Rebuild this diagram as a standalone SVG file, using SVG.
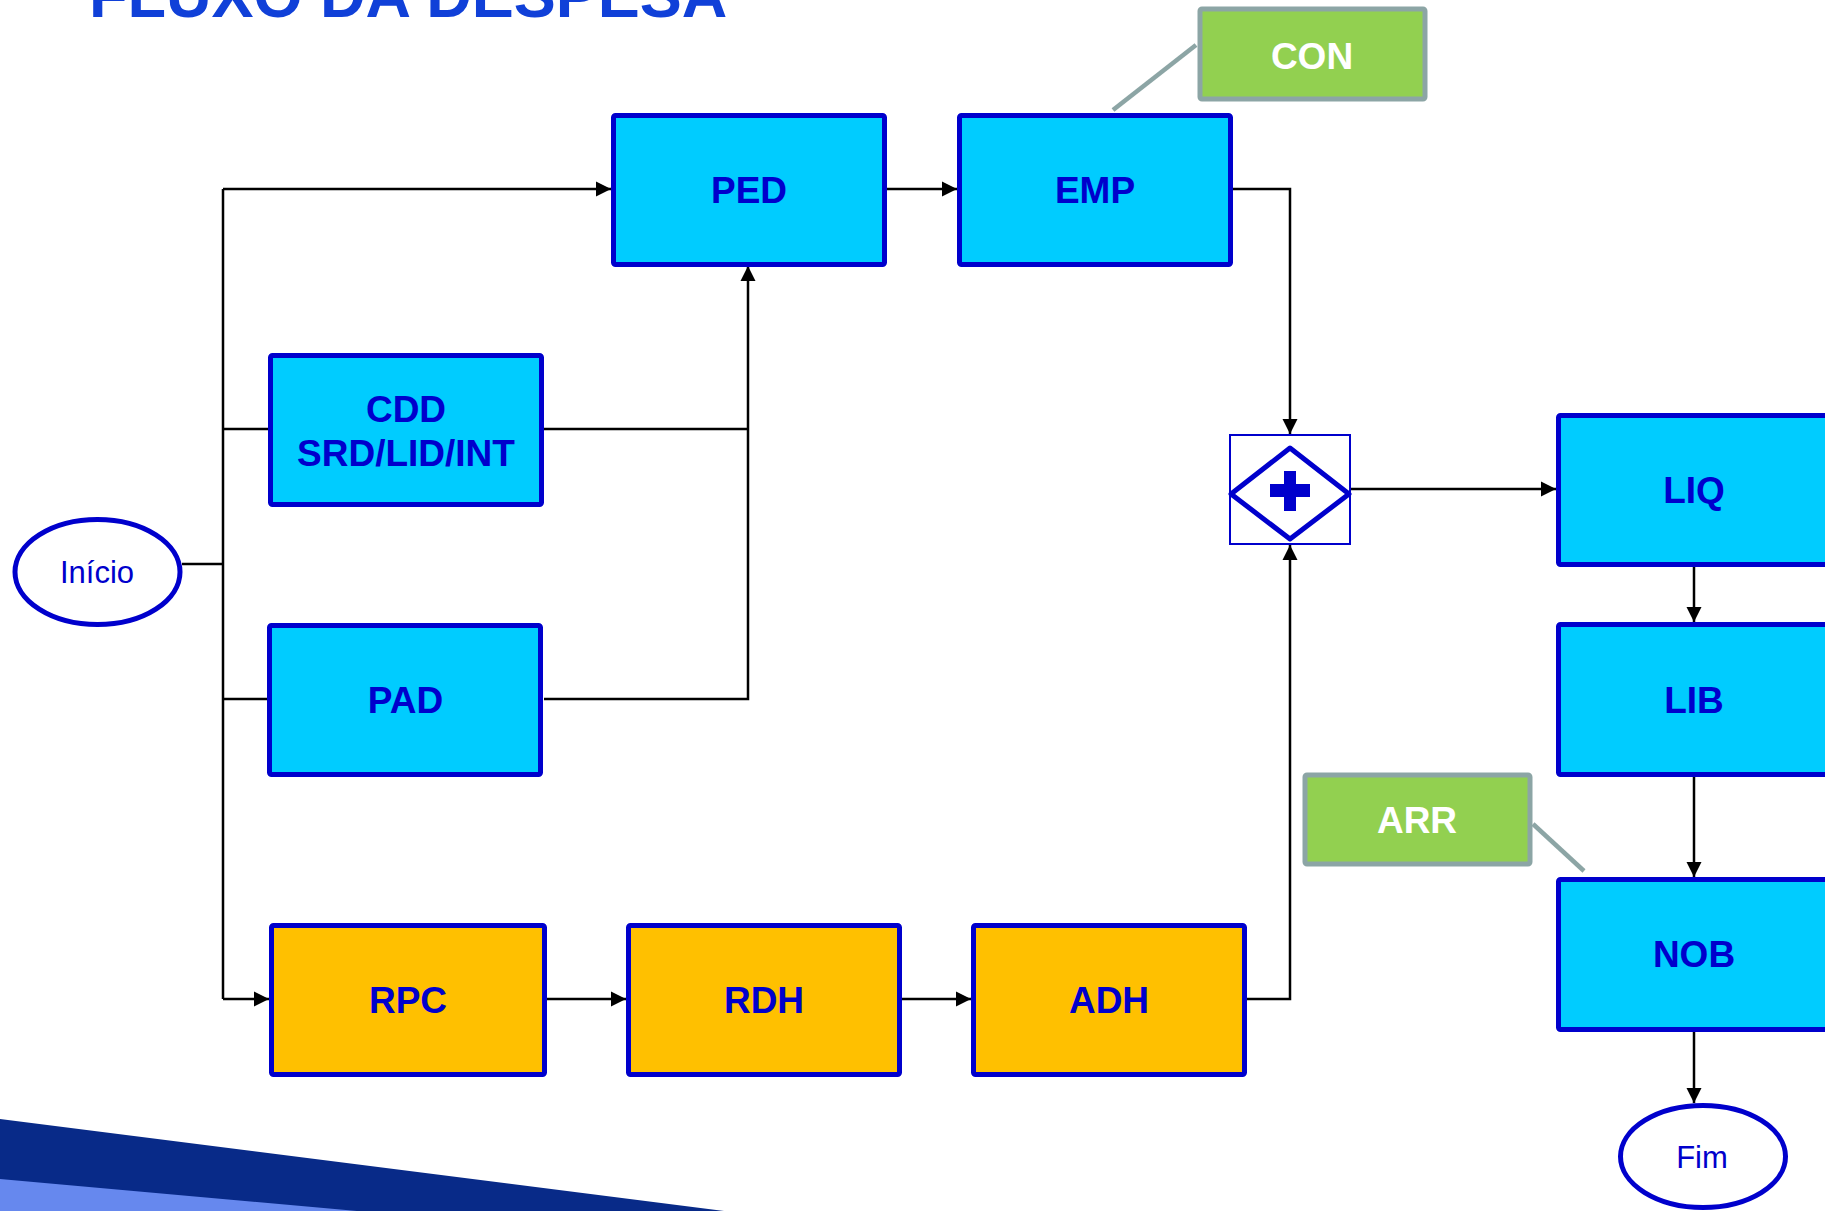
<svg xmlns="http://www.w3.org/2000/svg" width="1825" height="1211" viewBox="0 0 1825 1211">
<style>
.box{fill:#00CCFF;stroke:#0000CC;stroke-width:5;}
.obox{fill:#FFC000;stroke:#0000CC;stroke-width:5;}
.gbox{fill:#92D050;stroke:#8CA5A5;stroke-width:5;}
.lbl{font-family:"Liberation Sans",Arial,sans-serif;font-weight:bold;font-size:37px;fill:#0000CC;text-anchor:middle;}
.wlbl{font-family:"Liberation Sans",Arial,sans-serif;font-weight:bold;font-size:37px;fill:#FFFFFF;text-anchor:middle;}
.ev{fill:#FFFFFF;stroke:#0000CC;stroke-width:5;}
.evt{font-family:"Liberation Sans",Arial,sans-serif;font-size:31px;fill:#0000CC;text-anchor:middle;}
.c{fill:none;stroke:#000000;stroke-width:2.5;}
.ca{fill:none;stroke:#000000;stroke-width:2.5;marker-end:url(#ah);}
.ann{fill:none;stroke:#8CA5A5;stroke-width:4.5;}
</style>
<defs>
<marker id="ah" markerUnits="userSpaceOnUse" markerWidth="16" markerHeight="16" viewBox="0 0 16 16" refX="15" refY="8" orient="auto">
<path d="M0,0.5 L15,8 L0,15.5 Z" fill="#000000"/>
</marker>
</defs>
<rect width="1825" height="1211" fill="#FFFFFF"/>
<g id="title">
<text x="89" y="17" font-family="Liberation Sans, Arial, sans-serif" font-weight="bold" font-size="63" fill="#1040D8">FLUXO DA DESPESA</text>
</g>
<g id="band">
<polygon points="0,1119 724,1211 0,1211" fill="#082A88"/>
<polygon points="0,1179 357,1211 0,1211" fill="#6688EE"/>
</g>
<g id="connectors">
<path class="c" d="M182,564 L223,564"/>
<path class="c" d="M223,189 L223,999"/>
<path class="ca" d="M223,189 L611,189"/>
<path class="c" d="M223,429 L268,429"/>
<path class="c" d="M223,699 L267,699"/>
<path class="ca" d="M223,999 L269,999"/>
<path class="c" d="M543,429 L748,429"/>
<path class="ca" d="M544,699 L748,699 L748,266"/>
<path class="ca" d="M886,189 L957,189"/>
<path class="ca" d="M1233,189 L1290,189 L1290,434"/>
<path class="ca" d="M547,999 L626,999"/>
<path class="ca" d="M902,999 L971,999"/>
<path class="ca" d="M1247,999 L1290,999 L1290,545"/>
<path class="ca" d="M1351,489 L1556,489"/>
<path class="ca" d="M1694,566 L1694,622"/>
<path class="ca" d="M1694,777 L1694,877"/>
<path class="ca" d="M1694,1032 L1694,1103"/>
<path class="ann" d="M1196,45 L1113,110"/>
<path class="ann" d="M1533,824 L1584,871"/>
</g>
<g id="inicio">
<ellipse class="ev" cx="97.5" cy="572" rx="82.5" ry="52.5"/>
<text class="evt" x="97" y="583">Início</text>
</g>
<g id="ped">
<rect class="box" x="613.5" y="115.5" width="271" height="149" rx="2"/>
<text class="lbl" x="749" y="203">PED</text>
</g>
<g id="emp">
<rect class="box" x="959.5" y="115.5" width="271" height="149" rx="2"/>
<text class="lbl" x="1095" y="203">EMP</text>
</g>
<g id="con">
<rect class="gbox" x="1200" y="9" width="225" height="90" rx="2"/>
<text class="wlbl" x="1312" y="69">CON</text>
</g>
<g id="cdd">
<rect class="box" x="270.5" y="355.5" width="271" height="149" rx="2"/>
<text class="lbl" x="406" y="422">CDD</text>
<text class="lbl" x="406" y="466">SRD/LID/INT</text>
</g>
<g id="pad">
<rect class="box" x="269.5" y="625.5" width="271" height="149" rx="2"/>
<text class="lbl" x="405.5" y="713">PAD</text>
</g>
<g id="rpc">
<rect class="obox" x="271.5" y="925.5" width="273" height="149" rx="2"/>
<text class="lbl" x="408" y="1013">RPC</text>
</g>
<g id="rdh">
<rect class="obox" x="628.5" y="925.5" width="271" height="149" rx="2"/>
<text class="lbl" x="764" y="1013">RDH</text>
</g>
<g id="adh">
<rect class="obox" x="973.5" y="925.5" width="271" height="149" rx="2"/>
<text class="lbl" x="1109" y="1013">ADH</text>
</g>
<g id="gateway">
<rect x="1230" y="435" width="120" height="109" fill="#FFFFFF" stroke="#0000CC" stroke-width="2"/>
<polygon points="1231,494 1290,448 1349,494 1290,539" fill="#FFFFFF" stroke="#0000CC" stroke-width="5" stroke-linejoin="round"/>
<rect x="1270" y="484" width="40" height="13" fill="#0000CC"/>
<rect x="1284" y="471" width="12" height="40" fill="#0000CC"/>
</g>
<g id="liq">
<rect class="box" x="1558.5" y="415.5" width="271" height="149" rx="2"/>
<text class="lbl" x="1694" y="503">LIQ</text>
</g>
<g id="lib">
<rect class="box" x="1558.5" y="624.5" width="271" height="150" rx="2"/>
<text class="lbl" x="1694" y="713">LIB</text>
</g>
<g id="arr">
<rect class="gbox" x="1305" y="775" width="225" height="89" rx="2"/>
<text class="wlbl" x="1417" y="833">ARR</text>
</g>
<g id="nob">
<rect class="box" x="1558.5" y="879.5" width="271" height="150" rx="2"/>
<text class="lbl" x="1694" y="967">NOB</text>
</g>
<g id="fim">
<ellipse class="ev" cx="1703" cy="1156.5" rx="82.5" ry="51"/>
<text class="evt" x="1702" y="1168">Fim</text>
</g>
</svg>
